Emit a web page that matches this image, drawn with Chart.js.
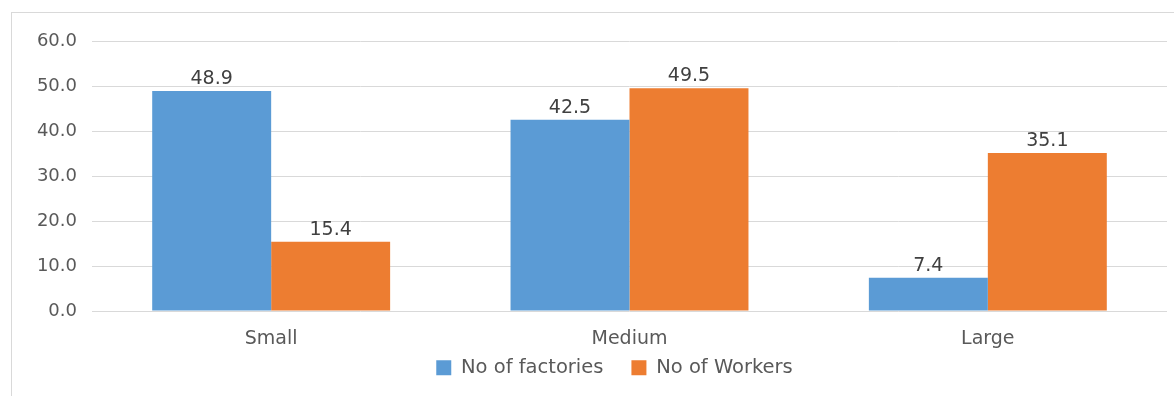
<!DOCTYPE html>
<html>
<head>
<meta charset="utf-8">
<script src="https://cdn.jsdelivr.net/npm/chart.js@4"></script>
<style>
  html, body { margin: 0; padding: 0; background: #fff; }
  #wrap { position: relative; width: 1174px; height: 396px; }
  #frame { position: absolute; left: 11px; top: 12px; width: 1180px; height: 400px; border: 1px solid #d9d9d9; box-sizing: border-box; }
  canvas { position: absolute; left: 0; top: 0; }
</style>
</head>
<body>
<div id="wrap">
  <div id="frame"></div>
  <canvas id="chart" width="1174" height="396"></canvas>
</div>
<script>
const categories = ['Small', 'Medium', 'Large'];
const factories = [48.9, 42.5, 7.4];
const workers = [15.4, 49.5, 35.1];
const yTicks = [0, 10, 20, 30, 40, 50, 60];

const font = "'DejaVu Sans', sans-serif";

// value above each bar
const barValues = {
    id: 'barValues',
    afterDatasetsDraw(chart) {
        const ctx = chart.ctx;
        ctx.save();
        ctx.font = '19px ' + font;
        ctx.fillStyle = '#404040';
        ctx.textAlign = 'center';
        ctx.textBaseline = 'alphabetic';
        chart.data.datasets.forEach((ds, i) => {
            chart.getDatasetMeta(i).data.forEach((bar, j) => {
                ctx.fillText(ds.data[j].toFixed(1), bar.x, bar.y - 7);
            });
        });
        ctx.restore();
    }
};

// legend sits a bit higher and is centred under the plot area rather than the canvas
const legendNudge = {
    id: 'legendNudge',
    afterLayout(chart) {
        const lg = chart.legend;
        lg.left = 62;
        lg.top -= 21;
    }
};

new Chart(document.getElementById('chart'), {
    type: 'bar',
    data: {
        labels: categories,
        datasets: [
            { label: 'No of factories', data: factories, backgroundColor: '#5b9bd5' },
            { label: 'No of Workers', data: workers, backgroundColor: '#ed7d31' }
        ]
    },
    options: {
        responsive: false,
        animation: false,
        layout: { padding: { top: 41, right: 7, left: 0, bottom: 7 } },
        datasets: { bar: { categoryPercentage: 0.664, barPercentage: 1 } },
        plugins: {
            tooltip: { enabled: false },
            legend: {
                position: 'bottom',
                maxHeight: 38,
                labels: {
                    color: '#595959',
                    font: { family: font, size: 19.5 },
                    boxWidth: 15,
                    boxHeight: 15,
                    padding: 28
                }
            }
        },
        scales: {
            x: {
                grid: { display: false, drawTicks: false },
                border: { display: false },
                ticks: { color: '#595959', font: { family: font, size: 19 }, padding: 17 },
                afterFit(scale) { scale.height = 40; }
            },
            y: {
                min: 0,
                max: 60,
                afterBuildTicks(scale) { scale.ticks = yTicks.map(v => ({ value: v })); },
                grid: { color: '#d9d9d9', lineWidth: 1, drawTicks: false },
                border: { display: false },
                ticks: {
                    color: '#595959',
                    font: { family: font, size: 18 },
                    padding: 15,
                    callback: v => v.toFixed(1)
                },
                afterFit(scale) { scale.width = 92; }
            }
        }
    },
    plugins: [barValues, legendNudge]
});
</script>
</body>
</html>
